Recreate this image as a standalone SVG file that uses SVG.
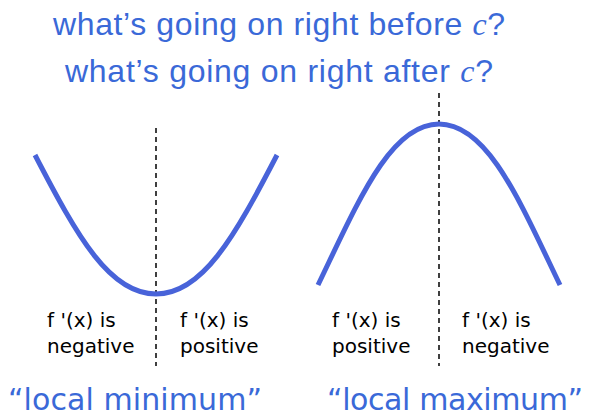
<svg xmlns="http://www.w3.org/2000/svg" width="589" height="416" viewBox="0 0 589 416">
<style>
.title{font-family:"Liberation Sans",Arial,sans-serif;font-size:32px;fill:#3a69d8}
.mathc{font-family:"Liberation Serif","Times New Roman",serif;font-style:italic}
.lbl{font-family:"DejaVu Sans",Verdana,sans-serif;font-size:20px;fill:#000}
.big{font-family:"DejaVu Sans",Verdana,sans-serif;font-size:30px;fill:#3a69d8}
.curve{fill:none;stroke:#4863d9;stroke-width:5;stroke-linecap:butt}
.dash{stroke:#000;stroke-width:1.5;stroke-dasharray:5 4;fill:none}
</style>
<rect width="589" height="416" fill="#fff"/>
<g id="title">
<text class="title" x="53" y="35" textLength="452">what’s going on right before <tspan class="mathc">c</tspan>?</text>
<text class="title" x="65" y="82" textLength="428">what’s going on right after <tspan class="mathc">c</tspan>?</text>
</g>
<g id="connectors">
<line class="dash" x1="156" y1="128" x2="156" y2="366"/>
<line class="dash" x1="439" y1="93" x2="439" y2="366"/>
</g>
<g id="minimum">
<path class="curve" d="M35,155 C78,238 110,294 156,294 S234,238 277,155"/>
<text class="lbl" x="47" y="327">f '(x) is</text>
<text class="lbl" x="47" y="353">negative</text>
<text class="lbl" x="180" y="327">f '(x) is</text>
<text class="lbl" x="180" y="353">positive</text>
<text class="big" x="8" y="410" textLength="254">“local minimum”</text>
</g>
<g id="maximum">
<path class="curve" d="M318,285 C358,202 390,124 439,124 S520,202 560,285"/>
<text class="lbl" x="332" y="327">f '(x) is</text>
<text class="lbl" x="332" y="353">positive</text>
<text class="lbl" x="462" y="327">f '(x) is</text>
<text class="lbl" x="462" y="353">negative</text>
<text class="big" x="327" y="410" textLength="256">“local maximum”</text>
</g>
</svg>
